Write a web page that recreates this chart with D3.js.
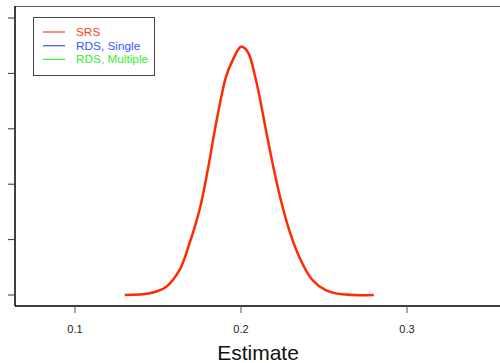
<!DOCTYPE html>
<html><head><meta charset="utf-8">
<script src="https://cdn.jsdelivr.net/npm/d3@7"></script>
<style>body{margin:0;background:#fff}svg{display:block}text{font-family:"Liberation Sans",Arial,sans-serif}</style>
</head><body><svg id="c" width="500" height="363"></svg>
<script>
const estimate = [0.130,0.145,0.155,0.163,0.169,0.175,0.180,0.185,0.191,0.195,0.200,0.204,0.209,0.215,0.219,0.224,0.229,0.235,0.243,0.251,0.261,0.280];
const densitySRS = [0.0,0.15,0.75,2.26,4.67,7.67,11.3,15.5,19.7,21.2,22.4,21.96,19.4,14.9,11.9,8.57,5.87,3.46,1.35,0.45,0.06,0.0];
const xTicks = [0.1,0.2,0.3];
const yTicks = [0,5,10,15,20,25];
const legendLabels = ["SRS","RDS, Single","RDS, Multiple"];
const legendColors = ["#ff3b1f","#3355ff","#33ee33"];

const svg = d3.select("#c");
const L=15,T=6,R=500,B=306;
const x = d3.scaleLinear().domain([0.1,0.2]).range([75,241]);
const y = d3.scaleLinear().domain([0,25]).range([295,18]);

// frame
svg.append("line").attr("x1",L).attr("x2",R).attr("y1",T+0.5).attr("y2",T+0.5).attr("stroke","#666").attr("stroke-width",1);
svg.append("line").attr("x1",L).attr("x2",R).attr("y1",B).attr("y2",B).attr("stroke","#000").attr("stroke-width",1.5);
svg.append("line").attr("x1",L).attr("x2",L).attr("y1",T).attr("y2",B).attr("stroke","#000").attr("stroke-width",1.5);

// y ticks (no labels)
svg.selectAll(".yt").data(yTicks).enter().append("line")
  .attr("x1",8).attr("x2",L).attr("y1",d=>y(d)).attr("y2",d=>y(d)).attr("stroke","#333").attr("stroke-width",1);

// x ticks
const xa = svg.append("g");
xa.selectAll("line").data(xTicks).enter().append("line")
  .attr("x1",d=>x(d)).attr("x2",d=>x(d)).attr("y1",B).attr("y2",313).attr("stroke","#555").attr("stroke-width",1);
xa.selectAll("text").data(xTicks).enter().append("text")
  .attr("x",d=>x(d)).attr("y",333).attr("text-anchor","middle").attr("font-size",11).attr("fill","#222")
  .text(d=>d3.format(".1f")(d));

svg.append("text").attr("x",258).attr("y",360).attr("text-anchor","middle").attr("font-size",21).attr("fill","#111").text("Estimate");

// curve
const line = d3.line().x((d,i)=>x(estimate[i])).y(d=>y(d)).curve(d3.curveCatmullRom);
svg.append("path").attr("d",line(densitySRS)).attr("fill","none").attr("stroke","#ff2a00").attr("stroke-width",2.5).attr("stroke-linejoin","round");

// legend
const lg = svg.append("g");
lg.append("rect").attr("x",33.5).attr("y",17.5).attr("width",121).attr("height",58).attr("fill","#fff").attr("stroke","#444").attr("stroke-width",1);
legendLabels.forEach((lab,i)=>{
  const yy = 32 + i*13.7;
  lg.append("line").attr("x1",43).attr("x2",65).attr("y1",yy).attr("y2",yy).attr("stroke",legendColors[i]).attr("stroke-width",1.2);
  lg.append("text").attr("x",76).attr("y",yy+4).attr("font-size",11.8).attr("fill",legendColors[i]).text(lab);
});
</script></body></html>
